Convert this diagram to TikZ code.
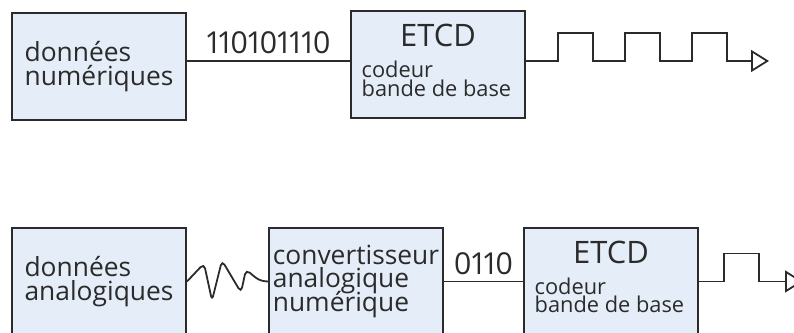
\documentclass[tikz,border=0pt]{standalone}
\usepackage{fontspec}
\setmainfont{Open Sans}
\usetikzlibrary{arrows.meta}
\definecolor{boxfill}{HTML}{E5EEF8}
\definecolor{ink}{HTML}{2B2B2B}
\newcommand{\boxfont}{\fontsize{7.5}{6.6}\selectfont\lineskiplimit=-10pt}
\newcommand{\subfont}{\fontsize{6.2}{5.3}\selectfont\lineskiplimit=-10pt}
\newcommand{\titlefont}{\fontsize{8.8}{10}\selectfont}
\newcommand{\bitfont}{\fontsize{8.6}{10}\selectfont\addfontfeatures{Numbers=Proportional}}
\tikzset{%
    block/.style={draw=ink, fill=boxfill, line width=0.2mm,
        minimum width=17.4mm, minimum height=10.7mm, inner sep=0,
        align=left, font=\boxfont, text=ink},
    title/.style={font=\titlefont, text=ink, inner sep=0, anchor=north},
    sub/.style={font=\subfont, text=ink, inner sep=0, align=left,
        anchor=north west},
    wire/.style={draw=ink, line width=0.18mm},
    bits/.style={font=\bitfont, text=ink, inner sep=0.6mm},
    signal/.style={wire, -{Triangle[open, length=1.8mm, width=2.2mm]}}
}

\begin{document}
\begin{tikzpicture}

    \useasboundingbox (0, 0) rectangle (79.4mm, 33.3mm);

    %%%%%%%%%%%%
    % Digital source
    \node[block] (num) at (9.9mm, 26.65mm) {données\\numériques};

    \node[block] (etcd1) at (43.8mm, 26.8mm) {};
    \node[title] (etcd1-title) at ([yshift=-1.3mm]etcd1.north) {ETCD};
    \node[sub] (etcd1-sub) at ([xshift=1.1mm, yshift=-5.0mm]etcd1.north west)
        {codeur\\bande de base};

    \coordinate (link1) at ([yshift=0.4mm]etcd1.west);
    \draw[wire] (num.east |- link1)
        -- node[bits, above] (bits1) {110101110} (link1);

    \coordinate (out1) at (76.9mm, 27.2mm);
    \draw[signal] ([yshift=0.4mm]etcd1.east)
        \foreach \k in {1, 2, 3}{%
            -- ++(3.2mm, 0) -- ++(0, 2.8mm) -- ++(3.5mm, 0) -- ++(0, -2.8mm)
        }
        -- (out1);

    %%%%%%%%%%%%
    % Analog source
    \node[block] (ana) at (9.9mm, 5.15mm) {données\\analogiques};
    \node[block] (conv) at (35.6mm, 5.15mm)
        {convertisseur\\analogique\\numérique};

    \node[block] (etcd2) at (61.1mm, 5.15mm) {};
    \node[title] (etcd2-title) at ([yshift=-1.3mm]etcd2.north) {ETCD};
    \node[sub] (etcd2-sub) at ([xshift=1.1mm, yshift=-5.0mm]etcd2.north west)
        {codeur\\bande de base};

    % Analog wave
    \draw[wire, rounded corners=0.5mm] (ana.east)
        -- ++(1.7mm, 1.8mm) -- ++(0.8mm, -3.7mm) -- ++(1.0mm, 4.0mm)
        -- ++(1.9mm, -3.2mm) -- ++(0.5mm, 2.3mm)
        to[out=-40, in=180] (conv.west);

    \draw[wire] (conv.east) -- node[bits, above] (bits2) {0110} (etcd2.west);

    \coordinate (out2) at (80.3mm, 5.15mm);
    \draw[signal] (etcd2.east)
        -- ++(2.5mm, 0) -- ++(0, 2.8mm) -- ++(3.5mm, 0) -- ++(0, -2.8mm)
        -- (out2);

\end{tikzpicture}
\end{document}
